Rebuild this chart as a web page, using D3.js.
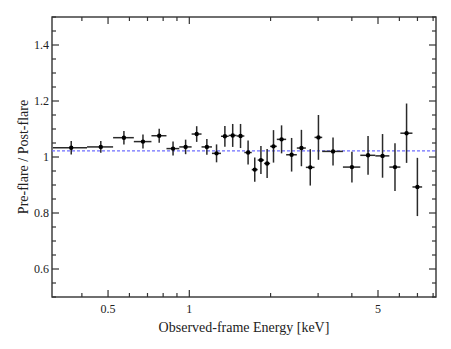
<!DOCTYPE html>
<html>
<head>
<meta charset="utf-8">
<script src="https://cdn.jsdelivr.net/npm/d3@7"></script>
<style>
  body { margin: 0; background: #fff; }
  text { font-family: "Liberation Serif", "DejaVu Serif", serif; fill: #222; }
</style>
</head>
<body>
<div id="chart"></div>
<script>
// energy bins (keV)
const eLo = [0.3125, 0.418, 0.522, 0.623, 0.724, 0.823, 0.918, 1.020, 1.110, 1.213,
  1.310, 1.399, 1.497, 1.599, 1.703, 1.792, 1.892, 1.992, 2.109, 2.284,
  2.502, 2.702, 2.910, 3.107, 3.707, 4.299, 4.887, 5.508, 6.051, 6.708];
const eHi = [0.418, 0.522, 0.623, 0.724, 0.823, 0.918, 1.020, 1.110, 1.213, 1.310,
  1.399, 1.497, 1.599, 1.703, 1.792, 1.892, 1.992, 2.109, 2.284, 2.502,
  2.702, 2.910, 3.107, 3.707, 4.299, 4.887, 5.508, 6.051, 6.708, 7.285];
// pre-flare / post-flare ratio and 1-sigma errors
const ratio = [1.033, 1.036, 1.069, 1.055, 1.076, 1.030, 1.036, 1.082, 1.036, 1.013,
  1.074, 1.077, 1.075, 1.016, 0.955, 0.989, 0.977, 1.038, 1.063, 1.008,
  1.032, 0.963, 1.070, 1.020, 0.964, 1.006, 1.004, 0.964, 1.085, 0.893];
const err = [0.024, 0.021, 0.024, 0.025, 0.025, 0.025, 0.026, 0.028, 0.028, 0.032,
  0.037, 0.041, 0.043, 0.043, 0.043, 0.050, 0.052, 0.058, 0.050, 0.060,
  0.065, 0.065, 0.080, 0.050, 0.055, 0.069, 0.078, 0.085, 0.106, 0.104];
const fitLevel = 1.022;

const xMajor = [0.5, 1, 5];
const xMinor = [0.4, 0.6, 0.7, 0.8, 0.9, 2, 3, 4, 6, 7, 8];
const yMajor = [0.6, 0.8, 1, 1.2, 1.4];
const yMinor = d3.range(0.5, 1.501, 0.05).filter(v => !yMajor.some(m => Math.abs(m - v) < 1e-6));

const W = 451, H = 349;
const m = { left: 52, top: 17, right: 15, bottom: 52 };
const iw = W - m.left - m.right, ih = H - m.top - m.bottom;

const svg = d3.select("#chart").append("svg")
  .attr("width", W).attr("height", H);
const ctr = svg.append("g").attr("transform", `translate(${m.left},${m.top})`);

const x = d3.scaleLog().domain([0.31, 8.2]).range([0, iw]);
const y = d3.scaleLinear().domain([0.5, 1.5]).range([ih, 0]);

const axisCol = "#333";
// ticks on all four sides, pointing inward
function ticks(vals, len, side) {
  const g = ctr.append("g").attr("stroke", axisCol).attr("stroke-width", 1.2);
  vals.forEach(v => {
    if (side === "bottom") g.append("line").attr("x1", x(v)).attr("x2", x(v)).attr("y1", ih).attr("y2", ih - len);
    if (side === "top") g.append("line").attr("x1", x(v)).attr("x2", x(v)).attr("y1", 0).attr("y2", len);
    if (side === "left") g.append("line").attr("y1", y(v)).attr("y2", y(v)).attr("x1", 0).attr("x2", len);
    if (side === "right") g.append("line").attr("y1", y(v)).attr("y2", y(v)).attr("x1", iw).attr("x2", iw - len);
  });
}
["bottom", "top"].forEach(s => { ticks(xMajor, 7, s); ticks(xMinor, 4, s); });
["left", "right"].forEach(s => { ticks(yMajor, 7, s); ticks(yMinor, 4, s); });

ctr.append("rect").attr("width", iw).attr("height", ih)
  .attr("fill", "none").attr("stroke", axisCol).attr("stroke-width", 1.4);

// tick labels
ctr.append("g").selectAll("text").data(xMajor).join("text")
  .attr("x", d => x(d)).attr("y", ih + 16)
  .attr("text-anchor", "middle").attr("font-size", 12)
  .text(d => d);
ctr.append("g").selectAll("text").data(yMajor).join("text")
  .attr("x", -3).attr("y", d => y(d) + 4)
  .attr("text-anchor", "end").attr("font-size", 12)
  .text(d => d3.format("~g")(d));

// axis titles
ctr.append("text")
  .attr("x", iw / 2).attr("y", ih + 35)
  .attr("text-anchor", "middle").attr("font-size", 14)
  .text("Observed-frame Energy [keV]");
ctr.append("text")
  .attr("transform", `translate(${-m.left + 28}, ${y(1)}) rotate(-90)`)
  .attr("text-anchor", "middle").attr("font-size", 14)
  .text("Pre-flare / Post-flare");

// fitted constant
ctr.append("line")
  .attr("x1", 0).attr("x2", iw)
  .attr("y1", y(fitLevel)).attr("y2", y(fitLevel))
  .attr("stroke", "#6f6fff").attr("stroke-width", 1.2)
  .attr("stroke-dasharray", "3,2");

// data with error bars
const data = ratio.map((r, i) => ({ lo: eLo[i], hi: eHi[i], e: (eLo[i] + eHi[i]) / 2, r, err: err[i] }));
const pts = ctr.append("g").attr("stroke", "#2a2a2a").attr("stroke-width", 1.5);
data.forEach(d => {
  pts.append("line").attr("x1", x(d.lo)).attr("x2", x(d.hi)).attr("y1", y(d.r)).attr("y2", y(d.r));
  pts.append("line").attr("x1", x(d.e)).attr("x2", x(d.e)).attr("y1", y(d.r - d.err)).attr("y2", y(d.r + d.err));
});
ctr.append("g").selectAll("circle").data(data).join("circle")
  .attr("cx", d => x(d.e)).attr("cy", d => y(d.r)).attr("r", 2.2)
  .attr("fill", "#000");
</script>
</body>
</html>
